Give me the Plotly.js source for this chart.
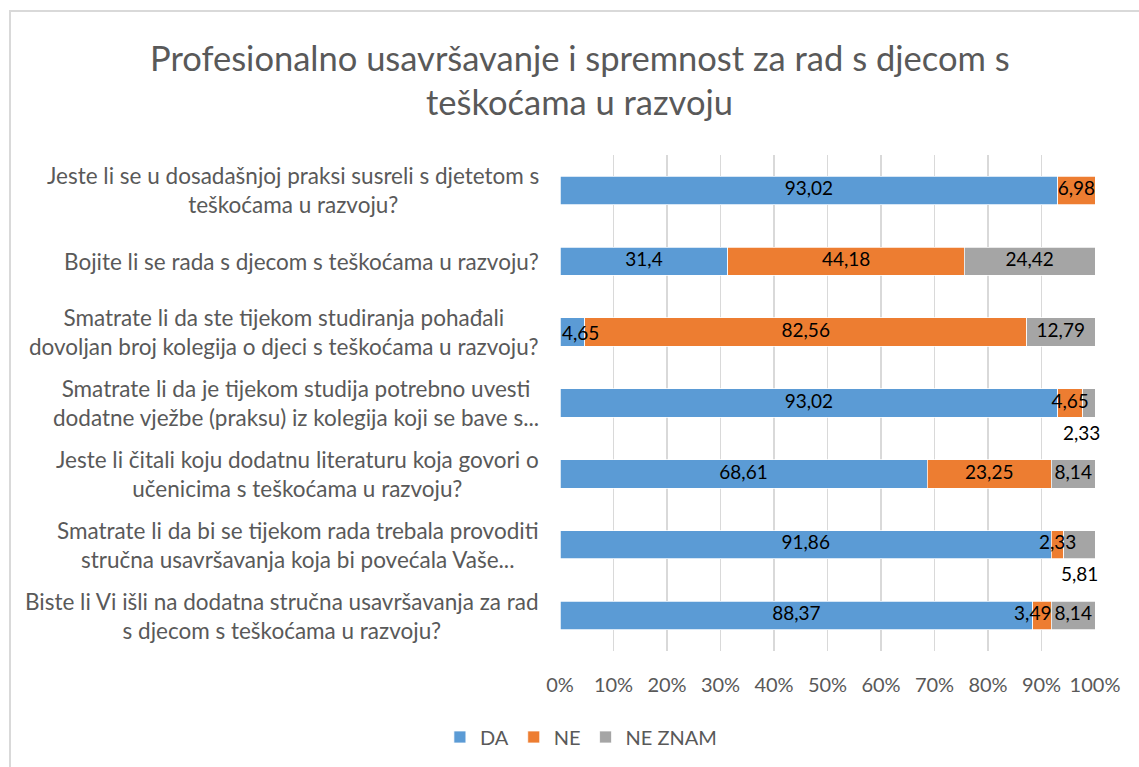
<!DOCTYPE html>
<html>
<head>
<meta charset="utf-8">
<script src="https://cdn.plot.ly/plotly-3.0.1.min.js"></script>
<style>
  html, body { margin: 0; padding: 0; background: #fff; overflow: hidden; width: 1139px; height: 767px; }
  #frame { position: absolute; left: 9px; top: 10px; width: 1200px; height: 800px; border: 2px solid #D9D9D9; box-sizing: border-box; }
  #chart { position: absolute; left: 0; top: 0; width: 1139px; height: 767px; }
</style>
</head>
<body>
<div id="frame"></div>
<div id="chart"></div>
<script>
const titleLines = ["Profesionalno usavršavanje i spremnost za rad s djecom s", "teškoćama u razvoju"];
const categories = [
  "Jeste li se u dosadašnjoj praksi susreli s djetetom s<br>teškoćama u razvoju?",
  "Bojite li se rada s djecom s teškoćama u razvoju?",
  "Smatrate li da ste tijekom studiranja pohađali<br>dovoljan broj kolegija o djeci s teškoćama u razvoju?",
  "Smatrate li da je tijekom studija potrebno uvesti<br>dodatne vježbe (praksu) iz kolegija koji se bave s...",
  "Jeste li čitali koju dodatnu literaturu koja govori o<br>učenicima s teškoćama u razvoju?",
  "Smatrate li da bi se tijekom rada trebala provoditi<br>stručna usavršavanja koja bi povećala Vaše...",
  "Biste li Vi išli na dodatna stručna usavršavanja za rad<br>s djecom s teškoćama u razvoju?"
];
const seriesNames = ["DA", "NE", "NE ZNAM"];
const da = [93.02, 31.4, 4.65, 93.02, 68.61, 91.86, 88.37];
const ne = [6.98, 44.18, 82.56, 4.65, 23.25, 2.33, 3.49];
const neZnam = [0, 24.42, 12.79, 2.33, 8.14, 5.81, 8.14];
const xTicks = [0, 10, 20, 30, 40, 50, 60, 70, 80, 90, 100];

const colors = ["#5B9BD5", "#ED7D31", "#A5A5A5"];
const FONT = "Lato, 'Open Sans', sans-serif";
const fmt = v => String(v).replace('.', ',');

// labels Excel moved outside the bar (below it)
const outsideLabels = [
  {series: 2, row: 3},
  {series: 2, row: 5}
];
// label Excel anchored at the start of the bar
const startLabels = [{series: 0, row: 2}];
// labels Excel pushed so they end at the end of their segment
const endLabels = [{series: 1, row: 6}];

const all = [da, ne, neZnam];
function isSpecial(list, s, r) { return list.some(o => o.series === s && o.row === r); }
function startOf(s, r) { let t = 0; for (let k = 0; k < s; k++) t += all[k][r]; return t; }

const traces = all.map((vals, s) => ({
  type: 'bar',
  orientation: 'h',
  name: seriesNames[s],
  y: categories,
  x: vals,
  marker: {color: colors[s], line: {color: '#FFFFFF', width: 0.75}},
  hoverinfo: 'x+y+name'
}));

// data labels drawn above all bars
all.forEach((vals, s) => {
  const xs = [], ys = [], ts = [], pos = [];
  vals.forEach((v, r) => {
    if (v === 0 || isSpecial(outsideLabels, s, r) || isSpecial(startLabels, s, r)) return;
    if (isSpecial(endLabels, s, r)) {
      xs.push(startOf(s, r) + v);
      pos.push('middle left');
    } else {
      xs.push(startOf(s, r) + v / 2);
      pos.push('middle center');
    }
    ys.push(categories[r]);
    ts.push(fmt(v));
  });
  traces.push({
    type: 'scatter', mode: 'text', x: xs, y: ys, text: ts,
    textposition: pos, showlegend: false, cliponaxis: false,
    textfont: {family: FONT, size: 19, color: '#000000'}, hoverinfo: 'skip'
  });
});

const annotations = [];
categories.forEach(c => {
  annotations.push({
    xref: 'paper', yref: 'y', x: 0, y: c, xanchor: 'right', yanchor: 'middle',
    xshift: -19, align: 'center', showarrow: false, text: c,
    font: {family: FONT, size: 22.5, color: '#595959'}
  });
});
outsideLabels.forEach(o => {
  const v = all[o.series][o.row];
  annotations.push({
    xref: 'x', yref: 'y', x: Math.min(startOf(o.series, o.row) + v / 2, 97.4), y: categories[o.row],
    xanchor: 'center', yanchor: 'middle', yshift: -29, showarrow: false,
    text: fmt(v), font: {family: FONT, size: 19, color: '#000000'}
  });
});
startLabels.forEach(o => {
  annotations.push({
    xref: 'x', yref: 'y', x: startOf(o.series, o.row), y: categories[o.row],
    xanchor: 'left', yanchor: 'middle', xshift: 0, showarrow: false,
    text: fmt(all[o.series][o.row]), font: {family: FONT, size: 19, color: '#000000'}
  });
});
annotations.push({
  xref: 'paper', yref: 'paper', x: 0.037, y: 1.197, xanchor: 'center', yanchor: 'middle',
  showarrow: false, text: titleLines[0], font: {family: FONT, size: 34.5, color: '#595959'}
});
annotations.push({
  xref: 'paper', yref: 'paper', x: 0.037, y: 1.107, xanchor: 'center', yanchor: 'middle',
  showarrow: false, text: titleLines[1], font: {family: FONT, size: 34.5, color: '#595959'}
});

const layout = {
  width: 1139, height: 767,
  margin: {l: 560, r: 44, t: 155, b: 115},
  paper_bgcolor: 'rgba(0,0,0,0)',
  plot_bgcolor: 'rgba(0,0,0,0)',
  barmode: 'stack',
  bargap: 0.6,
  showlegend: true,
  legend: {
    orientation: 'h', x: 0.04, xanchor: 'center', y: -0.171, yanchor: 'middle',
    font: {family: FONT, size: 20, color: '#595959'},
    itemwidth: 30, tracegroupgap: 0, traceorder: 'normal'
  },
  xaxis: {
    range: [0, 100], tickvals: xTicks, ticktext: xTicks.map(t => t + '%'),
    showgrid: true, gridcolor: '#D9D9D9', gridwidth: 1.3,
    zeroline: false, showline: false, ticks: '',
    ticklabelstandoff: 20,
    tickfont: {family: FONT, size: 20, color: '#595959'},
    fixedrange: true
  },
  yaxis: {
    type: 'category', autorange: 'reversed', showticklabels: false,
    showgrid: false, zeroline: false, showline: false, ticks: '',
    fixedrange: true
  },
  annotations: annotations
};

Plotly.newPlot('chart', traces, layout, {displayModeBar: false, staticPlot: true});
</script>
</body>
</html>
